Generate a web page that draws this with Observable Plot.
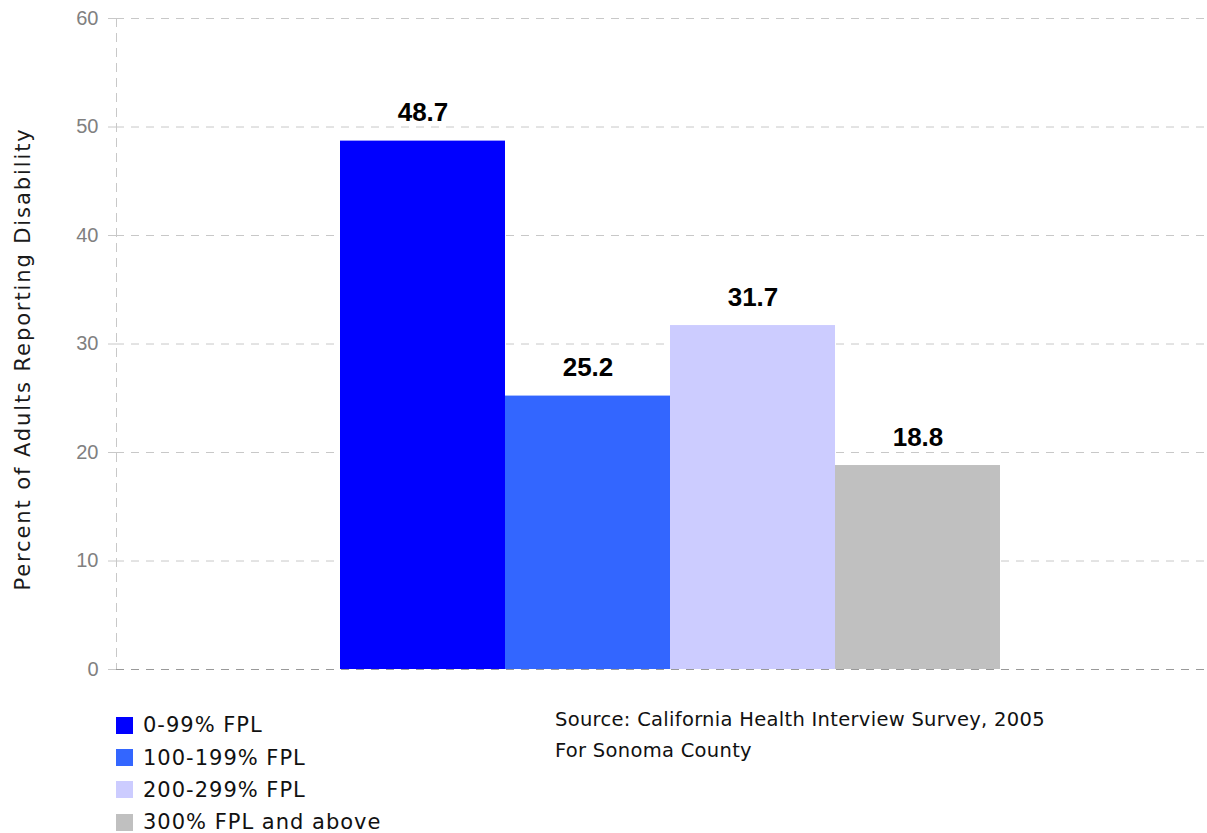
<!DOCTYPE html>
<html>
<head>
<meta charset="utf-8">
<script src="https://cdn.jsdelivr.net/npm/d3@7"></script>
<script src="https://cdn.jsdelivr.net/npm/@observablehq/plot@0.6"></script>
<style>
  body { margin: 0; background: #fff; }
  #wrap { position: relative; width: 1207px; height: 833px; overflow: hidden; }
  #ylabel { position: absolute; left: 23px; top: 359px; transform: translate(-50%, -50%) rotate(-90deg);
    font-family: "DejaVu Sans", sans-serif; font-size: 21px; letter-spacing: 1.9px; color: #1a1a1a; white-space: nowrap; }
  #legend { position: absolute; left: 116px; top: 709px; font-family: "DejaVu Sans", sans-serif; font-size: 21px; letter-spacing: 1px; color: #111; }
  .li { display: flex; align-items: center; height: 32.4px; }
  .sw { width: 17px; height: 17px; margin-right: 10px; }
  #source { position: absolute; left: 555px; top: 704px; font-family: "DejaVu Sans", sans-serif; font-size: 19.5px; letter-spacing: 0.3px; color: #111; line-height: 31px; }
</style>
</head>
<body>
<div id="wrap">
  <div id="chart"></div>
  <div id="ylabel"></div>
  <div id="legend"></div>
  <div id="source"></div>
</div>
<script>
const categories = ["0-99% FPL", "100-199% FPL", "200-299% FPL", "300% FPL and above"];
const values = [48.7, 25.2, 31.7, 18.8];
const colors = ["#0000FF", "#3366FF", "#CCCCFF", "#C0C0C0"];
const yTicks = [0, 10, 20, 30, 40, 50, 60];
const yTitle = "Percent of Adults Reporting Disability";
const sourceLines = ["Source: California Health Interview Survey, 2005", "For Sonoma County"];

const data = categories.map((c, i) => ({cat: c, value: values[i], color: colors[i]}));

const chart = Plot.plot({
  width: 1207,
  height: 690,
  marginLeft: 116,
  marginRight: 0,
  marginTop: 18,
  marginBottom: 21,
  x: {domain: categories, paddingInner: 0, paddingOuter: 1.29, align: 0.52, axis: null},
  y: {domain: [0, 60], ticks: yTicks, label: null},
  color: {domain: categories, range: colors},
  style: {background: "#fff"},
  marks: [
    Plot.gridY(yTicks.filter(d => d > 0), {stroke: "#c8c8c8", strokeOpacity: 1, strokeDasharray: "8,7"}),
    Plot.frame({anchor: "left", stroke: "#c8c8c8", strokeDasharray: "8,7"}),
    Plot.axisY({ticks: yTicks, tickSize: 8, tickPadding: 10, stroke: "#c8c8c8", label: null, fill: "#808080",
      fontSize: 20, fontFamily: "Liberation Sans, Arial, sans-serif", style: {letterSpacing: "-1.5px"}}),
    Plot.barY(data, {x: "cat", y: "value", fill: "cat", inset: 0}),
    Plot.ruleY([0], {stroke: "#999", strokeDasharray: "8,7"}),
    Plot.text(data, {x: "cat", y: "value", text: d => d.value.toFixed(1), lineAnchor: "bottom", dy: -20,
      fontSize: 26, fontWeight: "bold", fill: "#000", fontFamily: "Liberation Sans, Arial, sans-serif",
      style: {letterSpacing: "-1px"}})
  ]
});
document.getElementById("chart").appendChild(chart);

document.getElementById("ylabel").textContent = yTitle;
const leg = document.getElementById("legend");
categories.forEach((c, i) => {
  const row = document.createElement("div");
  row.className = "li";
  const sw = document.createElement("span");
  sw.className = "sw";
  sw.style.background = colors[i];
  const t = document.createElement("span");
  t.textContent = c;
  row.appendChild(sw); row.appendChild(t);
  leg.appendChild(row);
});
const src = document.getElementById("source");
sourceLines.forEach(s => { const d = document.createElement("div"); d.textContent = s; src.appendChild(d); });
</script>
</body>
</html>
